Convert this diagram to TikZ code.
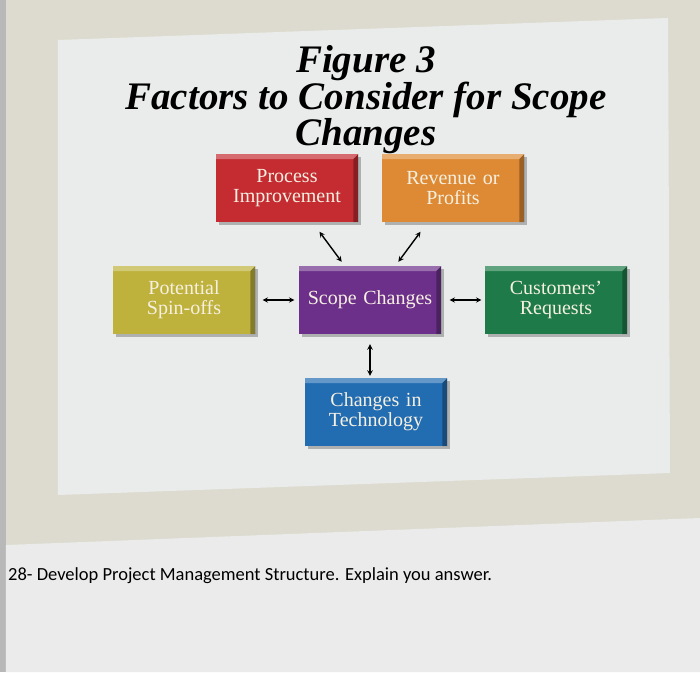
\documentclass[tikz,border=0pt]{standalone}
\usepackage{fontspec}
\setmainfont{Liberation Serif}
\newfontfamily\questionfont{Carlito}
\usetikzlibrary{shadows}

\definecolor{procred}{RGB}{196,44,50}
\definecolor{revorange}{RGB}{222,138,52}
\definecolor{spinolive}{RGB}{190,178,60}
\definecolor{scopepurple}{RGB}{108,48,138}
\definecolor{custgreen}{RGB}{30,122,72}
\definecolor{techblue}{RGB}{34,108,178}
\definecolor{textcream}{RGB}{246,240,226}
\definecolor{deskbeige}{RGB}{221,219,207}
\definecolor{panelgrey}{RGB}{234,236,235}
\definecolor{pagegrey}{RGB}{234,235,234}

\tikzstyle{link} = [line width=1.4pt,<->,>=stealth]
\tikzstyle{factor} = [
        rectangle,
        minimum width=142pt,
        minimum height=68pt,
        text width=136pt,
        text centered,
        text=textcream,
        font=\fontsize{20}{20}\selectfont,
        drop shadow={shadow xshift=3pt, shadow yshift=-3pt, fill=black!50, opacity=0.55},
        path picture={
            \fill[white, opacity=0.3] (path picture bounding box.north west) -- (path picture bounding box.north east)
                -- ([xshift=-5pt,yshift=-5pt]path picture bounding box.north east) -- ([yshift=-5pt]path picture bounding box.north west) -- cycle;
            \fill[black, opacity=0.3] (path picture bounding box.north east) -- (path picture bounding box.south east)
                -- ([xshift=-5pt]path picture bounding box.south east) -- ([xshift=-5pt,yshift=-5pt]path picture bounding box.north east) -- cycle;
        }
    ]

\begin{document}
\begin{tikzpicture}[node distance=112pt]
        \useasboundingbox (-370pt,-372pt) rectangle (330pt,300pt);
        % photo background: desk, figure panel, question sheet
        \fill[deskbeige] (-370pt,-372pt) rectangle (330pt,300pt);
        \fill[black!28] (-370pt,-372pt) rectangle (-364pt,300pt);
        \fill[panelgrey] (-312pt,260pt) -- (298pt,282pt) -- (300pt,-173pt) -- (-312pt,-195pt) -- cycle;
        \fill[pagegrey] (-364pt,-245pt) -- (330pt,-218pt) -- (330pt,-372pt) -- (-364pt,-372pt) -- cycle;

        \node [align=center, anchor=north, inner sep=0pt, font=\fontsize{39}{30}\selectfont\bfseries\itshape] (title) at (-4pt,255pt)
            {Figure 3\\Factors to Consider for Scope\\Changes};

        \node [factor, fill=scopepurple] (scope) at (0,0) {Scope Changes};
        \node [factor, fill=procred, above of=scope, xshift=-83pt] (proc) {Process\\Improvement};
        \node [factor, fill=revorange, above of=scope, xshift=83pt] (rev) {Revenue or\\Profits};
        \node [factor, fill=spinolive, left of=scope, xshift=-74pt] (spin) {Potential\\Spin-offs};
        \node [factor, fill=custgreen, right of=scope, xshift=74pt] (cust) {Customers'\\Requests};
        \node [factor, fill=techblue, below of=scope, xshift=6pt] (tech) {Changes in\\Technology};

        \draw [link, shorten <=12pt, shorten >=5pt] (proc) -- (scope);
        \draw [link, shorten <=12pt, shorten >=5pt] (rev) -- (scope);
        \draw [link, shorten <=7pt, shorten >=4pt] (spin) -- (scope);
        \draw [link, shorten <=8pt, shorten >=3pt] (scope) -- (cust);
        \draw [link, shorten <=10pt, shorten >=2pt] (scope.south) -- (scope.south |- tech.north);

        \node [anchor=base west, inner sep=0pt, font=\questionfont\fontsize{18.5}{22}\selectfont] (q28) at (-362pt,-280pt)
            {28- Develop Project Management Structure. Explain you answer.};
    \end{tikzpicture}
\end{document}
